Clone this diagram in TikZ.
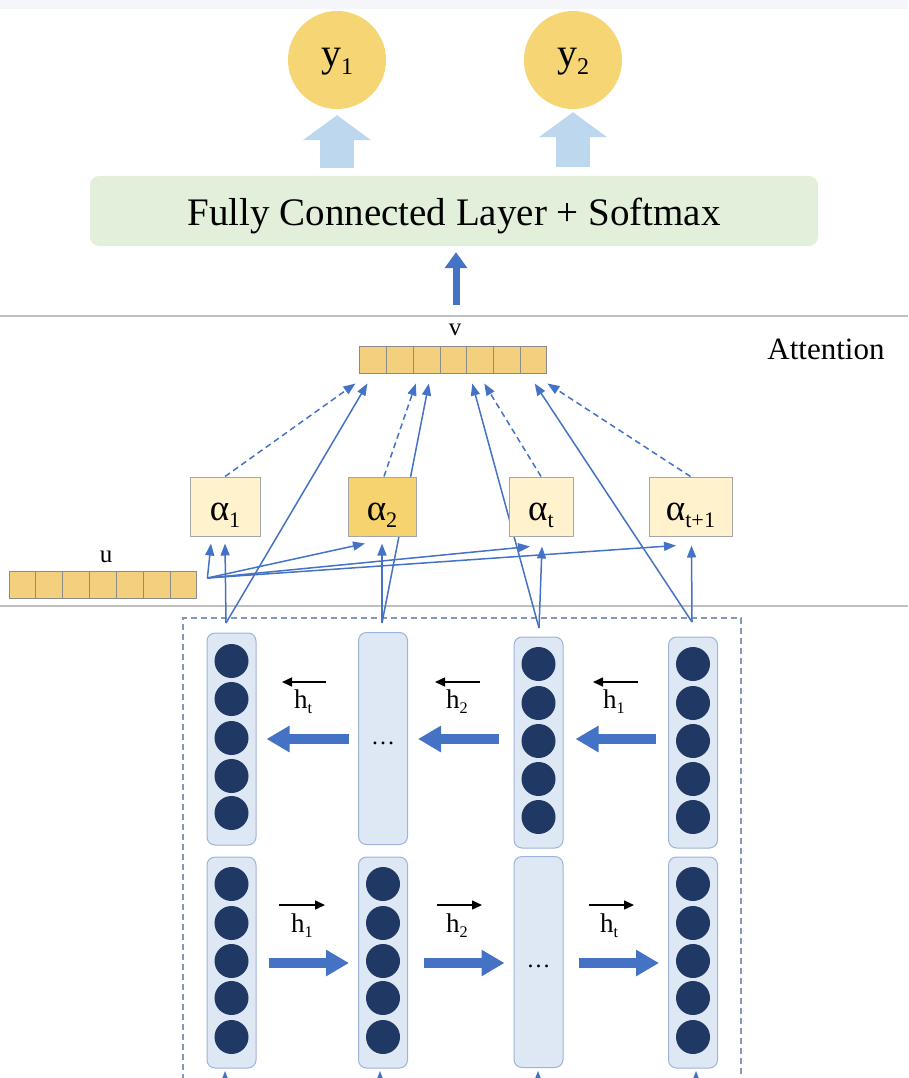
\documentclass[tikz,border=0pt]{standalone}
\usepackage{fontspec}
\setmainfont{Liberation Serif}
\usepackage{graphicx}
\usetikzlibrary{arrows.meta,calc}
\definecolor{ygold}{HTML}{F6D674}
\definecolor{cellfill}{HTML}{F3CF7E}
\definecolor{cellborder}{HTML}{8C8C8C}
\definecolor{alight}{HTML}{FFF2CC}
\definecolor{adark}{HTML}{F6D36E}
\definecolor{aborder}{HTML}{A6A6A6}
\definecolor{fcgreen}{HTML}{E2EFDA}
\definecolor{paleblue}{HTML}{BDD7EE}
\definecolor{lblue}{HTML}{4472C4}
\definecolor{colfill}{HTML}{DEE7F4}
\definecolor{colborder}{HTML}{9DB4D8}
\definecolor{navy}{HTML}{203864}
\definecolor{sepgray}{HTML}{C0C0C0}
\definecolor{dashblue}{HTML}{8498B8}
\definecolor{topgray}{HTML}{F4F6F9}
\newcommand\lsub[1]{\raisebox{-0.2em}{\scalebox{0.6}{#1}}}
\begin{document}
\begin{tikzpicture}[x=1pt,y=-1pt,
  ycirc/.style={circle, fill=ygold, minimum size=98pt, inner sep=0pt,
    font=\fontsize{40}{44}\selectfont, text height=19pt, text depth=6pt},
  fcbox/.style={rectangle, rounded corners=9pt, fill=fcgreen,
    minimum width=728pt, minimum height=70pt, inner sep=0pt},
  fatarrow/.style={draw=paleblue, line width=34pt, -{Triangle[length=25pt,width=67pt]}},
  midarrow/.style={draw=lblue, line width=7pt, -{Triangle[length=16pt,width=22pt]}},
  cell/.style={rectangle, draw=cellborder, fill=cellfill, line width=1pt,
    minimum width=26.8pt, minimum height=27pt, inner sep=0pt},
  abox/.style={rectangle, draw=aborder, fill=alight, line width=1pt,
    minimum height=59pt, inner sep=0pt, font=\fontsize{37}{40}\selectfont,
    text height=30pt, text depth=3pt},
  thinarrow/.style={draw=lblue, line width=1.5pt, -{Triangle[length=12pt,width=9pt]}},
  dasharrow/.style={thinarrow, dash pattern=on 6pt off 4pt},
  colbox/.style={rectangle, rounded corners=8pt, draw=colborder, line width=1pt,
    fill=colfill, minimum width=49pt, minimum height=212pt, inner sep=0pt},
  unit/.style={circle, fill=navy, minimum size=34pt, inner sep=0pt},
  bigarrow/.style={draw=lblue, line width=10pt, -{Triangle[length=23pt,width=25pt]}},
  harrow/.style={draw=black, line width=1.5pt, -{Triangle[length=10pt,width=9pt]}},
  hlabel/.style={anchor=base west, inner sep=0pt, font=\fontsize{27}{29}\selectfont},
  dotsty/.style={inner sep=0pt, font=\fontsize{24}{26}\selectfont},
  sep/.style={draw=sepgray, line width=2pt},
  lbl/.style={inner sep=0pt, anchor=base}
]
\clip (0,0) rectangle (908,1078);
\fill[topgray] (0,0) rectangle (908,9);

% separators
\draw[sep] (0,316) -- (908,316);
\draw[sep] (0,606) -- (908,606);

% top part
\node[ycirc] (y1) at (337,60) {y\lsub{1}};
\node[ycirc] (y2) at (573,60) {y\lsub{2}};
\node[fcbox] (fc) at (454,211) {};
\node[lbl, font=\fontsize{39}{42}\selectfont] (fctext) at (454,225) {Fully Connected Layer + Softmax};
\draw[fatarrow] ([yshift=8pt]fc.north -| y1.south) -- ([yshift=-6pt]y1.south);
\draw[fatarrow] ([yshift=9pt]fc.north -| y2.south) -- ([yshift=-3pt]y2.south);
\coordinate (vout) at (456,305);
\draw[midarrow] (vout) -- ([yshift=-6pt]fc.south -| vout);

\node[lbl, font=\fontsize{31}{34}\selectfont] (att) at (826,359) {Attention};

% v and u vectors
\foreach \i in {0,...,6} {
  \node[cell] (v\i) at ({360+26.7*\i+13.35},359.5) {};
  \node[cell] (u\i) at ({9+26.85*\i+13.4},585) {};
}
\node[lbl, font=\fontsize{25}{27}\selectfont] (vlab) at (455,335) {v};
\node[lbl, font=\fontsize{25}{27}\selectfont] (ulab) at (106,562) {u};

% dashed region
\draw[draw=dashblue, line width=1.2pt, dash pattern=on 6pt off 4pt] (183,1100) -- (183,618) -- (741,618) -- (741,1100);

% columns, top row (backward)
\node[colbox] (c1) at (231.5,739) {};
\node[colbox] (c2) at (383,738.5) {};
\node[colbox, minimum height=211pt] (c3) at (538.5,742.5) {};
\node[colbox, minimum height=211pt] (c4) at (693,742.5) {};
\foreach \y [count=\i] in {661,699,738,776,813} \node[unit] (c1u\i) at (231.5,\y) {};
\foreach \y [count=\i] in {664,703,741,779,817} {
  \node[unit] (c3u\i) at (538.5,\y) {};
  \node[unit] (c4u\i) at (693,\y) {};
}
\node[dotsty] (e1) at (383,743) {…};

% columns, bottom row (forward)
\node[colbox, minimum height=211pt] (d1) at (231.5,962.5) {};
\node[colbox, minimum height=211pt] (d2) at (383,962.5) {};
\node[colbox, minimum height=211pt] (d3) at (538.5,962) {};
\node[colbox, minimum height=211pt] (d4) at (693,962.5) {};
\foreach \y [count=\i] in {884,923,961,998,1037} {
  \node[unit] (d1u\i) at (231.5,\y) {};
  \node[unit] (d2u\i) at (383,\y) {};
  \node[unit] (d4u\i) at (693,\y) {};
}
\node[dotsty] (e2) at (538.5,966) {…};

% recurrent arrows
\draw[bigarrow] ([xshift=-9pt]c2.west |- 0,739) -- ([xshift=10pt]c1.east |- 0,739);
\draw[bigarrow] ([xshift=-15pt]c3.west |- 0,739) -- ([xshift=10pt]c2.east |- 0,739);
\draw[bigarrow] ([xshift=-12pt]c4.west |- 0,739) -- ([xshift=12pt]c3.east |- 0,739);
\draw[bigarrow] ([xshift=12pt]d1.east |- 0,963) -- ([xshift=-9pt]d2.west |- 0,963);
\draw[bigarrow] ([xshift=16pt]d2.east |- 0,963) -- ([xshift=-9pt]d3.west |- 0,963);
\draw[bigarrow] ([xshift=15pt]d3.east |- 0,963) -- ([xshift=-9pt]d4.west |- 0,963);

% hidden state labels
\node[hlabel] (hb1) at (294,708) {h\lsub{t}};
\node[hlabel] (hb2) at (446,708) {h\lsub{2}};
\node[hlabel] (hb3) at (603,708) {h\lsub{1}};
\coordinate (hb1r) at (326,682); \coordinate (hb1l) at (282,682);
\coordinate (hb2r) at (480,682); \coordinate (hb2l) at (435,682);
\coordinate (hb3r) at (638,682); \coordinate (hb3l) at (593,682);
\draw[harrow] (hb1r) -- (hb1l);
\draw[harrow] (hb2r) -- (hb2l);
\draw[harrow] (hb3r) -- (hb3l);
\node[hlabel] (hf1) at (291,932) {h\lsub{1}};
\node[hlabel] (hf2) at (446,932) {h\lsub{2}};
\node[hlabel] (hf3) at (600,932) {h\lsub{t}};
\coordinate (hf1l) at (279,905); \coordinate (hf1r) at (325,905);
\coordinate (hf2l) at (437,905); \coordinate (hf2r) at (482,905);
\coordinate (hf3l) at (589,905); \coordinate (hf3r) at (634,905);
\draw[harrow] (hf1l) -- (hf1r);
\draw[harrow] (hf2l) -- (hf2r);
\draw[harrow] (hf3l) -- (hf3r);

% inputs from below (cut off)
\foreach \x [count=\i] in {225,380,538,696} {
  \coordinate (in\i) at (\x,1100);
  \coordinate (inT\i) at (\x,1071);
  \draw[thinarrow] (in\i) -- (inT\i);
}

% attention connectors
\coordinate (p1) at (226,623);
\coordinate (p2) at (382,623);
\coordinate (p3) at (539,628);
\coordinate (p4) at (692,622);
\coordinate (F) at ([xshift=10pt,yshift=7pt]u6.east);

\path (225,506.5) coordinate (a1c) (382,506.5) coordinate (a2c)
      (541,506.5) coordinate (atc) (690.5,506.5) coordinate (at1c);

% targets at v
\coordinate (t1) at ($(v0.south west)+(-4,10)$);
\coordinate (t2) at ($(v0.south west)+(8,10)$);
\coordinate (t3) at ($(v2.south west)+(3,10)$);
\coordinate (t4) at ($(v2.south west)+(16,10)$);
\coordinate (t5) at ($(v4.south west)+(6,10)$);
\coordinate (t6) at ($(v4.south west)+(18,10)$);
\coordinate (t7) at ($(v6.south west)+(15,10)$);
\coordinate (t8) at ($(v6.south east)+(0,10)$);

\draw[thinarrow] (p1) -- (t2);
\draw[thinarrow] (p2) -- (t4);
\draw[thinarrow] (p3) -- (t5);
\draw[thinarrow] (p4) -- (t7);

\node[abox, minimum width=70pt] (a1) at (a1c) {α\lsub{1}};
\node[abox, minimum width=68pt, fill=adark] (a2) at (a2c) {α\lsub{2}};
\node[abox, minimum width=64pt] (at) at (atc) {α\lsub{t}};
\node[abox, minimum width=83pt] (at1) at (at1c) {α\lsub{t+1}};

\draw[dasharrow] (a1.north) -- (t1);
\draw[dasharrow] ([xshift=2pt]a2.north) -- (t3);
\draw[dasharrow] (at.north) -- (t6);
\draw[dasharrow] (at1.north) -- (t8);

\draw[thinarrow] (p1) -- ([yshift=-7pt]a1.south);
\draw[thinarrow] (p2) -- ([yshift=-7pt]a2.south);
\draw[thinarrow] (p3) -- ([xshift=1pt,yshift=-10pt]at.south);
\draw[thinarrow] (p4) -- ([xshift=1pt,yshift=-9pt]at1.south);

\draw[thinarrow] (F) -- ([xshift=-14pt,yshift=-7pt]a1.south);
\draw[thinarrow] (F) -- ([xshift=-17pt,yshift=-7pt]a2.south);
\draw[thinarrow] (F) -- ([xshift=-11pt,yshift=-10pt]at.south);
\draw[thinarrow] (F) -- ([xshift=-14.5pt,yshift=-9pt]at1.south);
\end{tikzpicture}
\end{document}
